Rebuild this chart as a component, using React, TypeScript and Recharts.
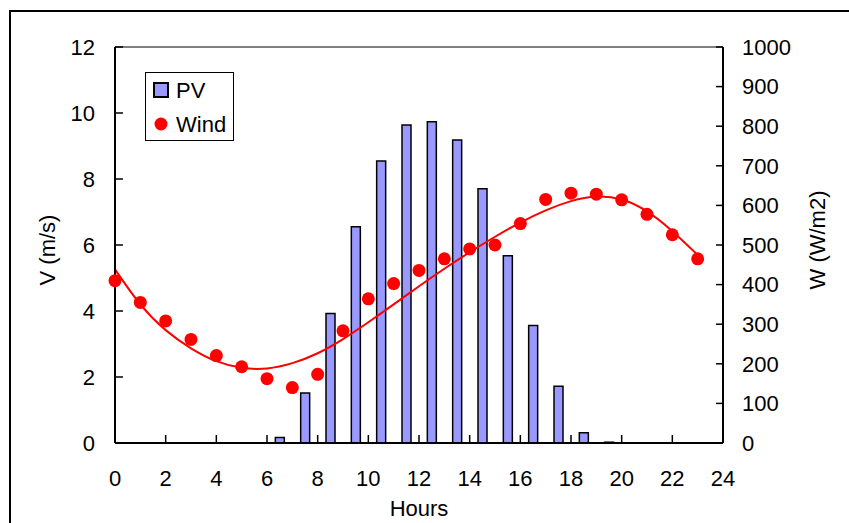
import { ComposedChart, Bar, Line, XAxis, YAxis, ReferenceLine, Legend } from "recharts";

// wind speed, one reading per hour (left axis, m/s)
const hours = [0, 1, 2, 3, 4, 5, 6, 7, 8, 9, 10, 11, 12, 13, 14, 15, 16, 17, 18, 19, 20, 21, 22, 23];
const wind = [4.92, 4.26, 3.7, 3.14, 2.65, 2.31, 1.95, 1.68, 2.08, 3.4, 4.37, 4.83, 5.23, 5.58, 5.88, 6.0, 6.65, 7.38, 7.57, 7.54, 7.37, 6.93, 6.31, 5.58];
// trend line through the wind readings
const trend = [5.26, 4.2, 3.42, 2.87, 2.48, 2.28, 2.26, 2.42, 2.72, 3.15, 3.66, 4.2, 4.75, 5.28, 5.78, 6.25, 6.68, 7.05, 7.33, 7.47, 7.38, 7.02, 6.42, 5.7];

// PV irradiance, centred on the half hour (right axis, W/m2)
const pvHours = [6.5, 7.5, 8.5, 9.5, 10.5, 11.5, 12.5, 13.5, 14.5, 15.5, 16.5, 17.5, 18.5, 19.5];
const pv = [14, 126, 327, 546, 712, 803, 811, 765, 642, 473, 297, 143, 26, 2];

const xTicks = [0, 2, 4, 6, 8, 10, 12, 14, 16, 18, 20, 22, 24];
const vTicks = [0, 2, 4, 6, 8, 10, 12];
const wTicks = [0, 100, 200, 300, 400, 500, 600, 700, 800, 900, 1000];

type Row = { x: number; wind?: number; trend?: number; pv?: number };

const rows: Row[] = [
  ...hours.map((h, i) => ({ x: h, wind: wind[i], trend: trend[i] })),
  ...pvHours.map((h, i) => ({ x: h, pv: pv[i] })),
].sort((a, b) => a.x - b.x);

const FONT = "'Liberation Sans', Arial, sans-serif";
const tickStyle = { fontSize: 22, fill: "#000", fontFamily: FONT };
const axisLine = { stroke: "#000", strokeWidth: 2 };
const tickLine = { stroke: "#000", strokeWidth: 1.5 };

function LegendBox() {
  return (
    <div style={{ width: 87, height: 67, border: "1px solid #000", background: "#fff", fontFamily: FONT, fontSize: 22, color: "#000" }}>
      <svg width={87} height={67} style={{ display: "block" }}>
        <rect x={8} y={10} width={14} height={14} fill="#9999FF" stroke="#000" strokeWidth={2} />
        <text x={30} y={17} dominantBaseline="central" fontSize={22} fontFamily={FONT}>PV</text>
        <circle cx={15} cy={51} r={6.5} fill="#FF0000" />
        <text x={30} y={51} dominantBaseline="central" fontSize={22} fontFamily={FONT}>Wind</text>
      </svg>
    </div>
  );
}

export default function App() {
  return (
    <div style={{ position: "fixed", left: 0, top: 0, width: 849, height: 523, overflow: "hidden", background: "#fff" }}>
      <div style={{ position: "absolute", left: 9, top: 10, width: 2000, height: 2000, border: "2px solid #000" }} />
      <div style={{ position: "absolute", left: 0, top: 0 }}>
        <ComposedChart width={849} height={523} data={rows} margin={{ top: 47, right: 0, bottom: 0, left: 0 }}>
          <XAxis
            dataKey="x"
            type="number"
            domain={[0, 24]}
            ticks={xTicks}
            interval={0}
            height={80}
            axisLine={axisLine}
            tickLine={tickLine}
            tickSize={-8}
            tickMargin={35}
            tick={tickStyle}
          />
          <YAxis
            yAxisId="left"
            orientation="left"
            domain={[0, 12]}
            ticks={vTicks}
            interval={0}
            width={115}
            axisLine={axisLine}
            tickLine={tickLine}
            tickSize={-8}
            tickMargin={28}
            tick={tickStyle}
          />
          <YAxis
            yAxisId="right"
            orientation="right"
            domain={[0, 1000]}
            ticks={wTicks}
            interval={0}
            width={126}
            axisLine={axisLine}
            tickLine={tickLine}
            tickSize={-7}
            tickMargin={26}
            tick={tickStyle}
          />
          <ReferenceLine yAxisId="left" y={12} stroke="#808080" strokeWidth={2} />
          <Bar yAxisId="right" dataKey="pv" barSize={9} fill="#9999FF" stroke="#000" strokeWidth={1.5} isAnimationActive={false} />
          <Line
            yAxisId="left"
            dataKey="trend"
            type="natural"
            stroke="#FF0000"
            strokeWidth={2}
            dot={false}
            activeDot={false}
            connectNulls
            isAnimationActive={false}
          />
          <Line
            yAxisId="left"
            dataKey="wind"
            stroke="none"
            dot={{ r: 6.5, fill: "#FF0000", stroke: "none" }}
            activeDot={false}
            isAnimationActive={false}
          />
          <Legend
            layout="vertical"
            align="center"
            verticalAlign="middle"
            content={() => <LegendBox />}
            wrapperStyle={{ left: 145, top: 72, width: 89, height: 69 }}
          />
        </ComposedChart>
      </div>
      <svg width={849} height={523} style={{ position: "absolute", left: 0, top: 0, pointerEvents: "none" }}>
        <text transform="translate(47,250) rotate(-90)" textAnchor="middle" dominantBaseline="central" fontSize={22} fontFamily={FONT}>V (m/s)</text>
        <text transform="translate(817,240) rotate(-90)" textAnchor="middle" dominantBaseline="central" fontSize={22} fontFamily={FONT}>W (W/m2)</text>
        <text x={419} y={516} textAnchor="middle" fontSize={22} fontFamily={FONT}>Hours</text>
      </svg>
    </div>
  );
}
